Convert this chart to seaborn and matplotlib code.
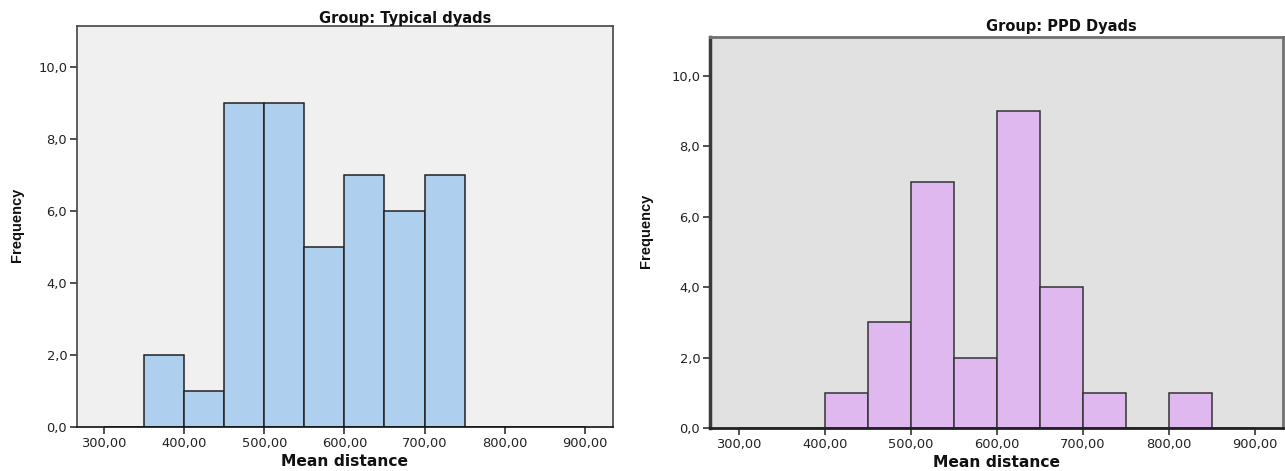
import seaborn as sns
import matplotlib.pyplot as plt
import numpy as np
import pandas as pd

# histogram bins (Mean distance) and counts
bin_edges = [300, 350, 400, 450, 500, 550, 600, 650, 700, 750, 800, 850, 900]
typical_counts = [0, 2, 1, 9, 9, 5, 7, 6, 7, 0, 0, 0]
ppd_counts = [0, 0, 1, 3, 7, 2, 9, 4, 1, 0, 1, 0]
x_ticks = [300, 400, 500, 600, 700, 800, 900]
y_ticks = [0, 2, 4, 6, 8, 10]

centers = [(a + b) / 2 for a, b in zip(bin_edges[:-1], bin_edges[1:])]
df_typ = pd.DataFrame({'dist': centers, 'n': typical_counts})
df_ppd = pd.DataFrame({'dist': centers, 'n': ppd_counts})

sns.set_style('white')
plt.rcParams['font.family'] = ['DejaVu Sans']

fig = plt.figure(figsize=(12.85, 4.71), dpi=100)
ax1 = fig.add_axes([0.0599, 0.0934, 0.4169, 0.8514])
ax2 = fig.add_axes([0.5525, 0.0913, 0.4459, 0.8301])

panels = [
    # ax, data, bar colour, bg, title, ymax, xmax, title pad, bar edge
    (ax1, df_typ, '#aed0ee', '#f0f0f0', 'Group: Typical dyads', 11.13, 935, 2, '#222222'),
    (ax2, df_ppd, '#dfb8f0', '#e1e1e1', 'Group: PPD Dyads', 11.11, 933, 4.5, '#333333'),
]

for ax, d, col, bg, title, ytop, xmax, tpad, ecol in panels:
    ax.set_facecolor(bg)
    sns.histplot(data=d, x='dist', weights='n', bins=bin_edges, ax=ax,
                 color=col, alpha=1, edgecolor=ecol, linewidth=1.1)
    ax.set_xlim(266, xmax)
    ax.set_ylim(0, ytop)
    ax.set_xticks(x_ticks)
    ax.set_xticklabels([f'{v},00' for v in x_ticks])
    ax.set_yticks(y_ticks)
    ax.set_yticklabels([f'{v},0' for v in y_ticks])
    ax.tick_params(axis='both', direction='out', length=5, width=1.1, color='#222222',
                   labelsize=9.4, pad=2, left=True, bottom=True, labelcolor='#222222')
    ax.set_title(title, fontsize=10.5, fontweight='bold', x=0.613, pad=tpad, color='#111111')
    ax.set_xlabel('Mean distance', fontsize=11.2, fontweight='bold', labelpad=3, color='#111111')
    ax.set_ylabel('Frequency', fontsize=10.5, fontweight='bold', family='Liberation Sans',
                  color='#111111')
    ax.yaxis.set_label_coords(-0.099, 0.505)

for s in ax1.spines.values():
    s.set_color('#444444')
    s.set_linewidth(1.2)
ax1.spines['bottom'].set_color('#111111')

ax2.spines['left'].set_color('#3a3a3a')
ax2.spines['left'].set_linewidth(2.5)
for k in ['top', 'right']:
    ax2.spines[k].set_color('#707070')
    ax2.spines[k].set_linewidth(2)
ax2.spines['bottom'].set_color('#222222')
ax2.spines['bottom'].set_linewidth(2)

plt.savefig('out.png', dpi=100)
